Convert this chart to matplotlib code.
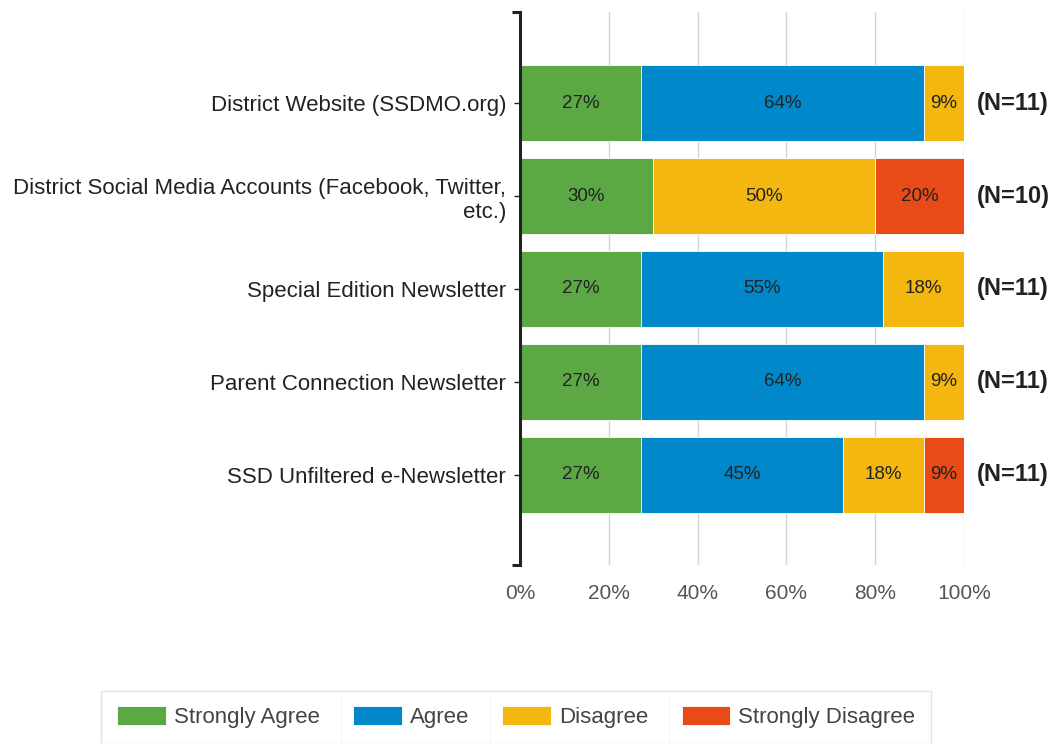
import numpy as np
import matplotlib.pyplot as plt
from matplotlib.lines import Line2D

plt.rcParams['font.family'] = ['Liberation Sans', 'DejaVu Sans']

# Data: response counts per channel
channels = ['District Website (SSDMO.org)',
            'District Social Media Accounts (Facebook, Twitter,\netc.)',
            'Special Edition Newsletter',
            'Parent Connection Newsletter',
            'SSD Unfiltered e-Newsletter']
n_resp = [11, 10, 11, 11, 11]
strongly_agree = [3, 3, 3, 3, 3]
agree = [7, 0, 6, 7, 5]
disagree = [1, 5, 2, 1, 2]
strongly_disagree = [0, 2, 0, 0, 1]

series = ['Strongly Agree', 'Agree', 'Disagree', 'Strongly Disagree']
colors = ['#5ba845', '#0088cb', '#f3b70f', '#e84b18']

counts = np.array([strongly_agree, agree, disagree, strongly_disagree], dtype=float)
shares = counts / np.array(n_resp, dtype=float)

fig = plt.figure(figsize=(10.62, 7.44), dpi=100)
ax = fig.add_axes([0.4896, 0.2406, 0.9077 - 0.4896, 0.9839 - 0.2406])

y = np.arange(len(channels))
left = np.zeros(len(channels))
for k in range(len(series)):
    ax.barh(y, shares[k], left=left, height=0.82, color=colors[k],
            edgecolor='white', linewidth=0.6, label=series[k], zorder=3)
    for i in range(len(channels)):
        if shares[k, i] > 0:
            ax.text(left[i] + shares[k, i] / 2, y[i], f'{shares[k, i] * 100:.0f}%',
                    ha='center', va='center', fontsize=13.5, color='#222222', zorder=4)
    left += shares[k]

for i in range(len(channels)):
    ax.text(1.03, y[i], f'(N={n_resp[i]})', ha='left', va='center',
            fontsize=17, fontweight='bold', color='#222222', clip_on=False)

ax.set_xlim(0, 1)
ax.set_ylim(len(channels) - 1 + 0.97, -0.98)
ax.set_xticks([0, 0.2, 0.4, 0.6, 0.8, 1.0])
ax.set_xticklabels(['0%', '20%', '40%', '60%', '80%', '100%'])
ax.set_yticks(y)
ax.set_yticklabels(channels)
ax.set_yticks(ax.get_ylim(), minor=True)

ax.grid(axis='x', color='#d4d4d4', linewidth=1, zorder=0)
for s in ['top', 'right', 'bottom']:
    ax.spines[s].set_visible(False)
ax.spines['left'].set_color('#222222')
ax.spines['left'].set_linewidth(2.2)
ax.spines['left'].set_zorder(5)

ax.tick_params(axis='x', length=0, pad=14, labelsize=15, labelcolor='#555555')
ax.tick_params(axis='y', which='major', length=4, width=1, color='#222222',
               pad=6, labelsize=16, labelcolor='#222222')
ax.tick_params(axis='y', which='minor', length=6, width=2.2, color='#222222')

leg = fig.legend(loc='center', bbox_to_anchor=(0.486, 0.036), ncol=4, fontsize=16,
                 frameon=True, fancybox=False, edgecolor='#dddddd',
                 handlelength=2.2, handleheight=0.9, handletextpad=0.35,
                 columnspacing=1.5, borderpad=0.7, labelcolor='#444444')
leg.get_frame().set_linewidth(1)

# vertical separators between legend entries
fig.canvas.draw()
fb = leg.get_window_extent()
texts = leg.get_texts()
for t in texts[:-1]:
    tb = t.get_window_extent()
    xs = (tb.x1 + 21) / fig.bbox.width
    fig.add_artist(Line2D([xs, xs], [fb.y0 / fig.bbox.height, fb.y1 / fig.bbox.height],
                          color='#dddddd', linewidth=1, transform=fig.transFigure))

fig.savefig('out.png', dpi=100)
